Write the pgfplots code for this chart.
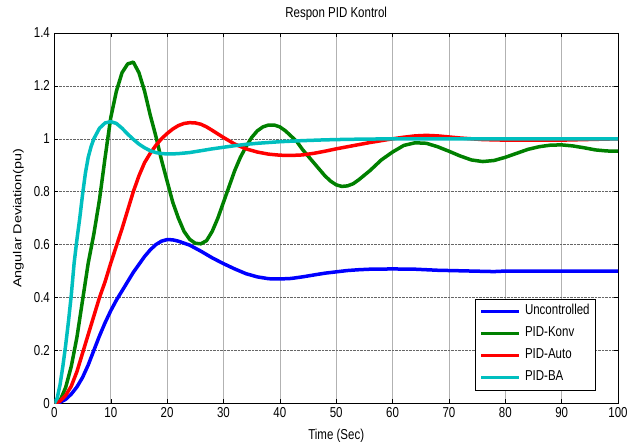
\documentclass[border=0pt]{standalone}
\usepackage{graphicx}
\usepackage{fontspec}
\setmainfont{Liberation Sans}
\usepackage{pgfplots}
\pgfplotsset{compat=1.18}

\definecolor{mblue}{rgb}{0,0,1}
\definecolor{mgreen}{rgb}{0,0.5,0}
\definecolor{mred}{rgb}{1,0,0}
\definecolor{mcyan}{rgb}{0,0.75,0.75}
% text in the reference is stretched vertically
\newcommand{\vs}[1]{\scalebox{1}[1.25]{#1}}

\begin{document}
\begin{tikzpicture}
\begin{axis}[
    scale only axis,
    width=563.6pt, height=370.3pt,
    xmin=0, xmax=100, ymin=0, ymax=1.4,
    xtick={0,10,...,100},
    ytick={0,0.2,...,1.4},
    tick align=inside,
    major tick length=4pt,
    tick style={black, line width=0.5pt},
    axis line style={black, line width=0.8pt},
    grid=major,
    x grid style={gray!60, line width=0.6pt},
    y grid style={black!60, densely dotted, line width=0.6pt},
    font=\fontsize{11.5}{13}\selectfont,
    /pgf/number format/assume math mode=true,
    xticklabel={\vs{\pgfmathprintnumber{\tick}}},
    yticklabel={\vs{\pgfmathprintnumber{\tick}}},
    xticklabel style={yshift=-1pt},
    yticklabel style={xshift=-1pt},
    every axis title shift=0pt,
    title={\vs{Respon PID Kontrol}},
    title style={at={(axis description cs:0.5,1.051)}, anchor=center},
    xlabel={\vs{Time (Sec)}},
    xlabel style={at={(axis description cs:0.5,-0.088)}, anchor=center},
    ylabel={\scalebox{1.25}[1]{Angular Deviation(pu)}},
    ylabel style={at={(axis description cs:-0.064,0.5)}, anchor=center},
    every axis plot/.append style={line width=3.5pt, line join=round},
    legend cell align=left,
    legend image code/.code={\draw[#1, line width=3.5pt] (0pt,0pt) -- (38pt,0pt);},
    legend style={at={(1,0)}, anchor=south east, xshift=-22pt, yshift=13pt,
        draw=black, line width=0.8pt, inner xsep=4pt, inner ysep=5pt,
        row sep=7pt,
        nodes={inner sep=2pt, text height=9pt, text depth=2pt},
        /tikz/every odd column/.append style={column sep=2pt}},
]
\addplot[mblue] coordinates {
(0,0)(1,0.004)(2,0.015)(3,0.035)(4,0.062)(5,0.098)(6,0.145)(7,0.2)(8,0.255)(9,0.305)
(10,0.35)(11,0.39)(12,0.425)(13,0.46)(14,0.495)(15,0.525)(16,0.555)(17,0.58)(18,0.6)
(19,0.613)(20,0.619)(21,0.618)(22,0.613)(24,0.598)(26,0.575)(28,0.55)(30,0.528)
(32,0.508)(34,0.49)(36,0.478)(38,0.471)(40,0.47)(42,0.472)(44,0.478)(46,0.485)
(48,0.492)(50,0.497)(52,0.502)(54,0.505)(56,0.507)(60,0.508)(64,0.507)(68,0.503)
(72,0.501)(76,0.499)(78,0.498)(80,0.5)(90,0.5)(100,0.5)
};
\addplot[mgreen] coordinates {
(0,0)(1,0.01)(2,0.06)(3,0.14)(4,0.25)(5,0.39)(6,0.53)(7,0.64)(8,0.77)(9,0.93)
(10,1.08)(11,1.18)(12,1.25)(13,1.283)(14,1.29)(15,1.25)(16,1.18)(17,1.09)(18,1.01)
(19,0.92)(20,0.84)(21,0.76)(22,0.7)(23,0.65)(24,0.62)(25,0.605)(26,0.603)(27,0.615)
(28,0.65)(29,0.7)(30,0.76)(31,0.82)(32,0.88)(33,0.93)(34,0.97)(35,1.005)(36,1.03)
(37,1.045)(38,1.052)(39,1.052)(40,1.045)(41,1.03)(42,1.01)(43,0.99)(44,0.96)
(45,0.935)(46,0.91)(47,0.885)(48,0.86)(49,0.84)(50,0.826)(51,0.82)(52,0.822)
(53,0.83)(54,0.845)(56,0.88)(58,0.92)(60,0.95)(62,0.975)(64,0.985)(66,0.983)
(68,0.97)(70,0.953)(72,0.935)(74,0.92)(76,0.914)(78,0.918)(80,0.93)(82,0.945)
(84,0.96)(86,0.97)(88,0.976)(90,0.977)(92,0.973)(94,0.966)(96,0.958)(98,0.954)(100,0.953)
};
\addplot[mred] coordinates {
(0,0)(1,0.008)(2,0.03)(3,0.065)(4,0.12)(5,0.19)(6,0.26)(7,0.33)(8,0.4)(9,0.46)
(10,0.53)(11,0.595)(12,0.66)(13,0.73)(14,0.8)(15,0.86)(16,0.91)(17,0.945)(18,0.975)
(19,1.0)(20,1.02)(21,1.037)(22,1.05)(23,1.058)(24,1.061)(25,1.06)(26,1.055)
(27,1.045)(28,1.032)(30,1.005)(32,0.98)(34,0.962)(36,0.95)(38,0.942)(40,0.938)
(42,0.937)(44,0.939)(46,0.945)(48,0.953)(50,0.962)(52,0.97)(54,0.978)(56,0.986)
(58,0.993)(60,1.0)(62,1.006)(64,1.011)(66,1.013)(68,1.011)(70,1.007)(72,1.003)
(74,1.0)(76,0.997)(80,0.995)(85,0.995)(90,0.995)(94,0.997)(100,1.0)
};
\addplot[mcyan] coordinates {
(0,0)(0.5,0.02)(1,0.07)(1.5,0.14)(2,0.22)(2.5,0.31)(3,0.41)(3.5,0.53)(4,0.62)
(4.5,0.7)(5,0.79)(5.5,0.87)(6,0.93)(6.5,0.97)(7,1.0)(8,1.04)(9,1.06)(10,1.065)
(11,1.058)(12,1.04)(13,1.018)(14,0.998)(15,0.98)(16,0.966)(17,0.955)(18,0.948)
(19,0.944)(20,0.943)(21,0.943)(22,0.944)(24,0.948)(26,0.955)(28,0.962)(30,0.968)
(32,0.974)(34,0.979)(36,0.983)(38,0.986)(40,0.989)(44,0.993)(48,0.996)(52,0.998)
(60,1.0)(100,1.0)
};
\legend{\vs{Uncontrolled},\vs{PID-Konv},\vs{PID-Auto},\vs{PID-BA}}
\end{axis}
\path (current axis.south west) ++(-54.4pt,-40.7pt) rectangle ([shift={(23pt,33pt)}]current axis.north east);
\end{tikzpicture}
\end{document}
